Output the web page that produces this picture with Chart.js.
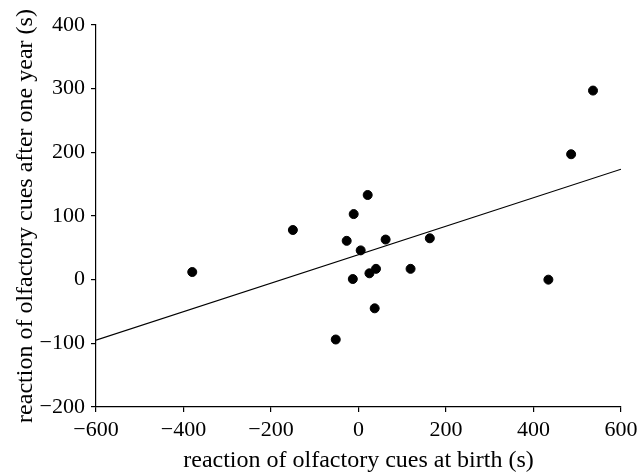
<!DOCTYPE html>
<html>
<head>
<meta charset="utf-8">
<script src="https://cdn.jsdelivr.net/npm/chart.js@4"></script>
<style>
  body { margin: 0; background: #fff; }
</style>
</head>
<body>
<canvas id="myChart" width="637" height="475"></canvas>
<script>
// datos
const birthX = [-380, -150, -52, -27, -11, -13, 5, 21, 25, 40, 37, 62, 119, 163, 434, 486, 536];
const yearY = [12, 78, -94, 61, 103, 1, 46, 133, 10, 17, -45, 63, 17, 65, 0, 197, 297];
const fitX = [-600, 600];
const fitY = [-95, 173.5];
const xTicks = [-600, -400, -200, 0, 200, 400, 600];
const yTicks = [-200, -100, 0, 100, 200, 300, 400];

const serif = "'Liberation Serif', 'Times New Roman', serif";

function minus(v) {
  return v < 0 ? "\u2212" + Math.abs(v) : String(v);
}

const puntos = birthX.map(function(x, i) { return { x: x, y: yearY[i] }; });
const recta = fitX.map(function(x, i) { return { x: x, y: fitY[i] }; });

const config = {
  type: "scatter",
  data: {
    datasets: [
      {
        data: puntos,
        backgroundColor: "#000",
        borderColor: "#000",
        pointRadius: 4.5,
        pointHoverRadius: 4.5,
      },
      {
        data: recta,
        showLine: true,
        borderColor: "#000",
        borderWidth: 1.2,
        pointRadius: 0,
      },
    ],
  },
  options: {
    responsive: false,
    animation: false,
    layout: { padding: { top: 25, right: 16, bottom: 0, left: 0 } },
    plugins: { legend: { display: false }, tooltip: { enabled: false } },
    scales: {
      x: {
        type: "linear",
        min: -600,
        max: 600,
        afterBuildTicks: function(scale) {
          scale.ticks = xTicks.map(function(v) { return { value: v }; });
        },
        afterFit: function(scale) {
          scale.height = 68;
          scale.paddingLeft = 0;
          scale.paddingRight = 0;
        },
        grid: { drawOnChartArea: false, color: "#000", tickLength: 5, lineWidth: 1.2 },
        border: { color: "#000", width: 1.2 },
        ticks: {
          color: "#000",
          padding: 5,
          maxRotation: 0,
          font: { family: serif, size: 22 },
          callback: minus,
        },
        title: {
          display: true,
          text: "reaction of olfactory cues at birth (s)",
          color: "#000",
          font: { family: serif, size: 24 },
          padding: { top: 0, bottom: 0 },
        },
      },
      y: {
        type: "linear",
        min: -200,
        max: 400,
        afterBuildTicks: function(scale) {
          scale.ticks = yTicks.map(function(v) { return { value: v }; });
        },
        afterFit: function(scale) {
          scale.width = 96;
          scale.paddingTop = 0;
          scale.paddingBottom = 0;
        },
        grid: { drawOnChartArea: false, color: "#000", tickLength: 5, lineWidth: 1.2 },
        border: { color: "#000", width: 1.2 },
        ticks: {
          color: "#000",
          padding: 6,
          font: { family: serif, size: 22 },
          callback: minus,
        },
        title: {
          display: true,
          text: "reaction of olfactory cues after one year (s)",
          color: "#000",
          font: { family: serif, size: 24 },
          padding: { top: 11, bottom: 0 },
        },
      },
    },
  },
};

var myChart = new Chart(document.getElementById("myChart"), config);
</script>
</body>
</html>
